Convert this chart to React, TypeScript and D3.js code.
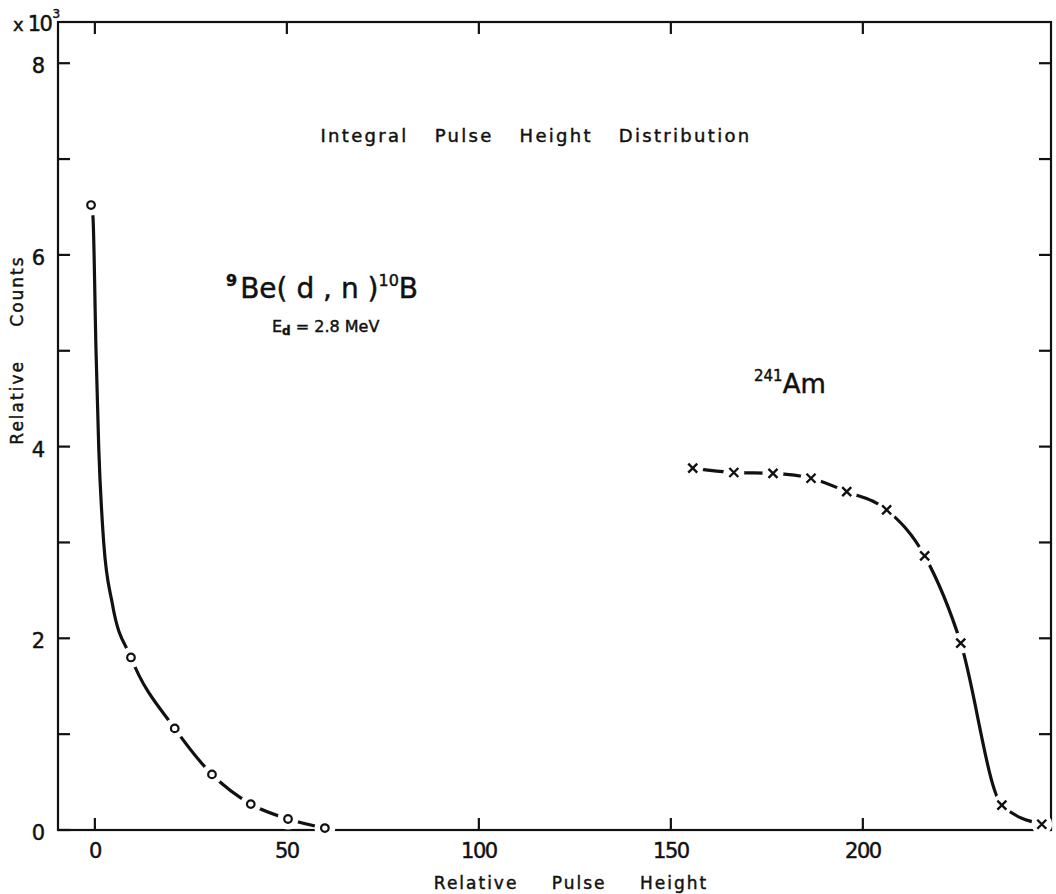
import React, { useMemo } from "react";
import * as d3 from "d3";

// 9Be(d,n)10B markers (open circles)
const beX = [-1, 9.4, 20.8, 30.5, 40.6, 50.3, 59.9];
const beY = [6.52, 1.8, 1.06, 0.58, 0.27, 0.115, 0.02];
// extra readings of the hand-drawn fit curve between the first two markers
const beCurveX = [-0.5, 0.3, 1.0, 2.3, 4.6];
const beCurveY = [6.4, 5.0, 4.0, 3.0, 2.35];

// 241Am markers (crosses)
const amX = [155.7, 166.4, 176.6, 186.5, 195.8, 206.2, 216.1, 225.5, 236.2, 246.6];
const amY = [3.775, 3.73, 3.72, 3.67, 3.53, 3.34, 2.86, 1.95, 0.26, 0.06];

const xTicks = [0, 50, 100, 150, 200];
const yTicks = [0, 1, 2, 3, 4, 5, 6, 7, 8];
const yLabels = [0, 2, 4, 6, 8];

const W = 1056;
const H = 894;
const m = { left: 58, right: 1051, top: 22, bottom: 830 };
const font = "'DejaVu Sans', sans-serif";
const ink = "#111";

const App = () => {
  const x = useMemo(() => d3.scaleLinear().domain([-9.6, 249]).range([m.left, m.right]), []);
  const y = useMemo(() => d3.scaleLinear().domain([0, 8.43]).range([m.bottom, m.top]), []);

  const line = d3
    .line<[number, number]>()
    .x((d) => x(d[0]))
    .y((d) => y(d[1]))
    .curve(d3.curveMonotoneX);

  const bePts: [number, number][] = beX.map((v, i) => [v, beY[i]]);
  const beFit: [number, number][] = [...bePts, ...beCurveX.map((v, i) => [v, beCurveY[i]] as [number, number])].sort(
    (a, b) => a[0] - b[0]
  );
  const amPts: [number, number][] = amX.map((v, i) => [v, amY[i]]);

  const tl = 12;
  // makes the thin system font look more like the pen lettering
  const heavy = { stroke: ink, strokeWidth: 0.45 };

  return (
    <svg width={W} height={H} style={{ position: "absolute", left: 0, top: 0, background: "#fff" }}>
      <g fill="none" stroke={ink} strokeWidth={2.2}>
        <rect x={m.left} y={m.top} width={m.right - m.left} height={m.bottom - m.top} />
        {xTicks.map((t) => (
          <g key={"xt" + t}>
            <line x1={x(t)} x2={x(t)} y1={m.bottom} y2={m.bottom - tl} />
            <line x1={x(t)} x2={x(t)} y1={m.top} y2={m.top + tl} />
          </g>
        ))}
        {yTicks.map((t) => (
          <g key={"yt" + t}>
            <line x1={m.left} x2={m.left + tl} y1={y(t)} y2={y(t)} />
            <line x1={m.right} x2={m.right - tl} y1={y(t)} y2={y(t)} />
          </g>
        ))}
      </g>

      {/* fit curves */}
      <path d={line(beFit) || ""} fill="none" stroke={ink} strokeWidth={3.2} />
      <path d={line(amPts) || ""} fill="none" stroke={ink} strokeWidth={3.2} />

      {/* gaps around markers */}
      {bePts.map((d, i) => (
        <circle key={"bg" + i} cx={x(d[0])} cy={y(d[1])} r={10.5} fill="#fff" />
      ))}
      {amPts.map((d, i) => (
        <circle key={"ag" + i} cx={x(d[0])} cy={y(d[1])} r={10.5} fill="#fff" />
      ))}

      {/* markers */}
      {bePts.map((d, i) => (
        <circle key={"b" + i} cx={x(d[0])} cy={y(d[1])} r={3.8} fill="#fff" stroke={ink} strokeWidth={2.2} />
      ))}
      {amPts.map((d, i) => {
        const cx = x(d[0]);
        const cy = y(d[1]);
        const s = 4.5;
        return (
          <path
            key={"a" + i}
            d={`M${cx - s},${cy - s}L${cx + s},${cy + s}M${cx - s},${cy + s}L${cx + s},${cy - s}`}
            stroke={ink}
            strokeWidth={2.4}
            fill="none"
          />
        );
      })}

      {/* tick labels */}
      <g fontFamily={font} fontSize={21} fill={ink} {...heavy}>
        {yLabels.map((t) => (
          <text key={"yl" + t} x={45} y={y(t) + 4} textAnchor="end" dominantBaseline="middle">
            {t}
          </text>
        ))}
        {xTicks.map((t) => (
          <text key={"xl" + t} x={x(t)} y={852} textAnchor="middle" dominantBaseline="middle" letterSpacing={-1.5}>
            {t}
          </text>
        ))}
      </g>

      {/* multiplier */}
      <text fontFamily={font} fill={ink} x={13} y={31} {...heavy}>
        <tspan fontSize={18}>x</tspan>
        <tspan fontSize={21} dx={4} letterSpacing={-1.5}>10</tspan>
        <tspan fontSize={12} dy={-13} dx={1}>3</tspan>
      </text>

      {/* axis titles */}
      <text
        x={571}
        y={889}
        textAnchor="middle"
        fontFamily={font}
        fontSize={17}
        letterSpacing={2}
        style={{ wordSpacing: "26px" }}
        fill={ink}
        {...heavy}
      >
        Relative Pulse Height
      </text>
      <text
        transform="translate(23,350) rotate(-90)"
        textAnchor="middle"
        fontFamily={font}
        fontSize={17}
        letterSpacing={2}
        style={{ wordSpacing: "26px" }}
        fill={ink}
        {...heavy}
      >
        Relative Counts
      </text>

      {/* title */}
      <text
        x={536}
        y={142}
        textAnchor="middle"
        fontFamily={font}
        fontSize={18}
        letterSpacing={2.3}
        style={{ wordSpacing: "18px" }}
        fill={ink}
        {...heavy}
      >
        Integral Pulse Height Distribution
      </text>

      {/* annotations */}
      <text x={226} y={298} fontFamily={font} fill={ink} {...heavy}>
        <tspan fontSize={16} fontWeight="bold" dy={-12}>9</tspan>
        <tspan fontSize={28} dy={12} dx={3}>Be( d , n )</tspan>
        <tspan fontSize={16} dy={-12}>10</tspan>
        <tspan fontSize={28} dy={12}>B</tspan>
      </text>
      <text x={272} y={332} fontFamily={font} fill={ink} fontSize={16} {...heavy}>
        <tspan>E</tspan>
        <tspan fontSize={12} dy={3} fontWeight="bold">d</tspan>
        <tspan dy={-3}> = 2.8 MeV</tspan>
      </text>
      <text x={754} y={393} fontFamily={font} fill={ink} {...heavy}>
        <tspan fontSize={15} dy={-12}>241</tspan>
        <tspan fontSize={26} dy={12}>Am</tspan>
      </text>
    </svg>
  );
};

export default App;
